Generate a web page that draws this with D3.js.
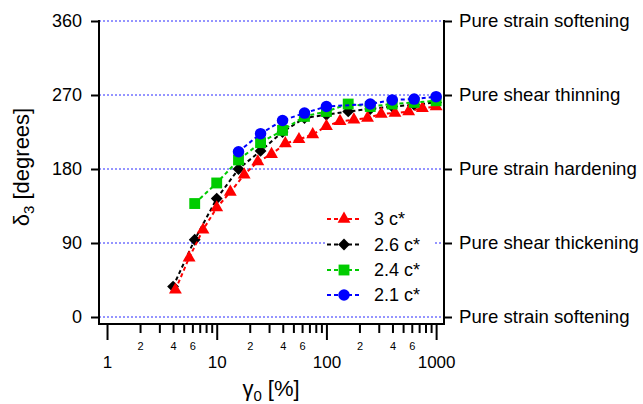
<!DOCTYPE html>
<html>
<head>
<meta charset="utf-8">
<script src="https://cdn.jsdelivr.net/npm/d3@7"></script>
<style>
  html, body { margin: 0; padding: 0; background: #fff; }
  svg { display: block; font-family: "Liberation Sans", Arial, Helvetica, sans-serif; }
</style>
</head>
<body>
<svg id="chart" width="643" height="404"></svg>
<script>
// ---- data ----
const seriesNames = ["3 c*", "2.6 c*", "2.4 c*", "2.1 c*"];
const x3c   = [4.2, 5.6, 7.5, 10, 13.3, 17.8, 23.7, 31.6, 42.2, 56.2, 75, 100, 133, 178, 237, 316, 422, 562, 750, 1000];
const y3c   = [33, 72, 106, 133, 152, 173, 189, 198, 211, 216, 222, 232, 238, 240, 242, 247, 248, 250, 254, 256];
const x26c  = [4, 6.3, 10, 15.8, 25.1, 39.8, 63.1, 100, 158, 251, 398, 631, 1000];
const y26c  = [37, 94, 144, 180, 202, 225, 242, 246, 250, 253, 256, 258, 261];
const x24c  = [6.3, 10, 15.8, 25.1, 39.8, 63.1, 100, 158, 251, 398, 631, 1000];
const y24c  = [138, 163, 191, 212, 227, 244, 250, 259, 256, 259, 261, 263];
const x21c  = [15.8, 25.1, 39.8, 63.1, 100, 251, 398, 631, 1000];
const y21c  = [201, 223, 239, 248, 256, 259, 264, 265, 268];
const yTicks = [0, 90, 180, 270, 360];
const rightLabels = ["Pure strain softening", "Pure shear thickening", "Pure strain hardening", "Pure shear thinning", "Pure strain softening"];
const xMajorTicks = [1, 10, 100, 1000];
const xMinorTicks = [2,3,4,5,6,7,8,9,20,30,40,50,60,70,80,90,200,300,400,500,600,700,800,900];
const xMinorLabeled = [2, 4, 6, 20, 40, 60, 200, 400, 600];

// ---- layout ----
const svg = d3.select("#chart");
const L = 99, R = 444, T = 21, B = 324;
const x = d3.scaleLog().domain([0.845, 1180]).range([L, R]);
const y = d3.scaleLinear().domain([0, 360]).range([317, T]);

const colors = ["#ff0000", "#000000", "#00cc00", "#0000ff"];
const diamond = { draw(ctx, size) { const r = Math.sqrt(size / 2); ctx.moveTo(0, -r); ctx.lineTo(r, 0); ctx.lineTo(0, r); ctx.lineTo(-r, 0); ctx.closePath(); } };
const symbols = [
  d3.symbol().type(d3.symbolTriangle).size(72),
  d3.symbol().type(diamond).size(70),
  d3.symbol().type(d3.symbolSquare).size(118),
  d3.symbol().type(d3.symbolCircle).size(104)
];

// grid lines
svg.append("g").selectAll("line").data(yTicks).join("line")
  .attr("x1", L).attr("x2", R)
  .attr("y1", d => y(d)).attr("y2", d => y(d))
  .attr("stroke", "#2a2aff").attr("stroke-width", 1).attr("stroke-dasharray", "2,2");

// y axis left
const gy = svg.append("g").attr("transform", `translate(${L},0)`)
  .call(d3.axisLeft(y).tickValues(yTicks).tickSize(8).tickPadding(9));
gy.select(".domain").remove();
gy.selectAll("line").attr("stroke", "#000").attr("stroke-width", 2);
gy.selectAll("text").attr("font-size", 18).attr("fill", "#000").attr("font-family", "Liberation Sans, Arial, sans-serif");

// y axis right
const gr = svg.append("g").attr("transform", `translate(${R},0)`)
  .call(d3.axisRight(y).tickValues(yTicks).tickSize(8).tickPadding(7).tickFormat((d, i) => rightLabels[i]));
gr.select(".domain").remove();
gr.selectAll("line").attr("stroke", "#000").attr("stroke-width", 2);
gr.selectAll("text").attr("font-size", 18.6).attr("fill", "#000").attr("font-family", "Liberation Sans, Arial, sans-serif");

// x axis major
const gxM = svg.append("g").attr("transform", `translate(0,${B})`)
  .call(d3.axisBottom(x).tickValues(xMajorTicks).tickSize(16).tickPadding(16).tickFormat(d3.format("d")));
gxM.select(".domain").remove();
gxM.selectAll("line").attr("stroke", "#000").attr("stroke-width", 2);
gxM.selectAll("text").attr("font-size", 17).attr("fill", "#000").attr("font-family", "Liberation Sans, Arial, sans-serif");

// x axis minor
const gxm = svg.append("g").attr("transform", `translate(0,${B})`)
  .call(d3.axisBottom(x).tickValues(xMinorTicks).tickSize(9).tickPadding(9)
    .tickFormat(d => xMinorLabeled.includes(d) ? String(d).charAt(0) : ""));
gxm.select(".domain").remove();
gxm.selectAll("line").attr("stroke", "#000").attr("stroke-width", 2);
gxm.selectAll("text").attr("font-size", 11).attr("fill", "#000").attr("font-family", "Liberation Sans, Arial, sans-serif");

// frame lines (left, right, bottom)
svg.append("path")
  .attr("d", `M${L},${T}V${B}H${R}V${T}`)
  .attr("fill", "none").attr("stroke", "#000").attr("stroke-width", 2).attr("stroke-linecap", "square");

// series
const series = [
  { xs: x3c, ys: y3c },
  { xs: x26c, ys: y26c },
  { xs: x24c, ys: y24c },
  { xs: x21c, ys: y21c }
];
const order = [1, 0, 2, 3];
const line = d3.line().x(d => x(d[0])).y(d => y(d[1]));
order.forEach(i => {
  const s = series[i];
  const pts = s.xs.map((v, k) => [v, s.ys[k]]);
  const g = svg.append("g");
  g.append("path").attr("d", line(pts)).attr("fill", "none")
    .attr("stroke", colors[i]).attr("stroke-width", 2).attr("stroke-dasharray", "4,3");
  g.selectAll("path.m").data(pts).join("path").attr("class", "m")
    .attr("transform", d => `translate(${x(d[0])},${y(d[1])})`)
    .attr("d", symbols[i]()).attr("fill", colors[i]);
});

// legend
const lg = svg.append("g");
lg.append("rect").attr("x", 325).attr("y", 206).attr("width", 108).attr("height", 102).attr("fill", "#fff");
const legY = [219, 244.5, 270, 295];
seriesNames.forEach((name, i) => {
  lg.append("line").attr("x1", 327).attr("x2", 361).attr("y1", legY[i]).attr("y2", legY[i])
    .attr("stroke", colors[i]).attr("stroke-width", 2).attr("stroke-dasharray", "4,3");
  lg.append("path").attr("transform", `translate(344,${legY[i]})`).attr("d", symbols[i]()).attr("fill", colors[i]);
  lg.append("text").attr("x", 374).attr("y", legY[i]).attr("dy", "0.35em")
    .attr("font-size", 18).attr("fill", "#000").text(name);
});

// axis titles
const yt = svg.append("text").attr("transform", "translate(29,167) rotate(-90)")
  .attr("text-anchor", "middle").attr("font-size", 22).attr("fill", "#000");
yt.append("tspan").text("δ");
yt.append("tspan").attr("font-size", 15).attr("dy", 5).text("3");
yt.append("tspan").attr("dy", -5).text(" [degrees]");

const xt = svg.append("text").attr("x", 271).attr("y", 396)
  .attr("text-anchor", "middle").attr("font-size", 22).attr("fill", "#000");
xt.append("tspan").text("γ");
xt.append("tspan").attr("font-size", 15).attr("dy", 5).text("0");
xt.append("tspan").attr("dy", -5).text(" [%]");
</script>
</body>
</html>
